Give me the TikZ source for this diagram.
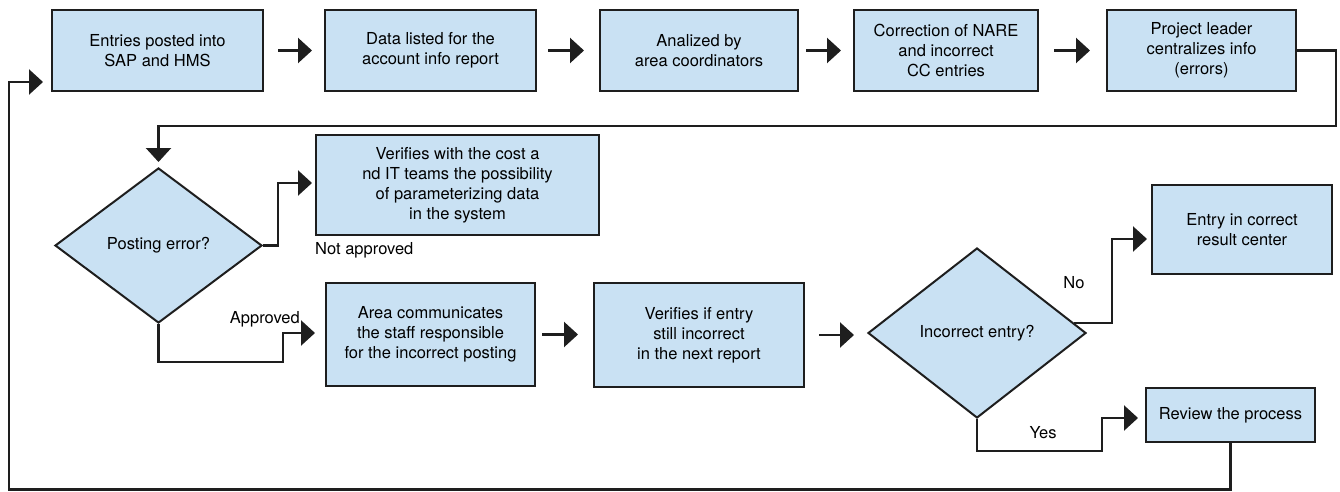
\documentclass[tikz,border=0pt]{standalone}
\usepackage{fontspec}
\setmainfont{TeX Gyre Heros}
\usepackage{tikz}
\usetikzlibrary{arrows.meta,shapes.geometric}
\definecolor{boxblue}{RGB}{201,225,243}
\definecolor{lineblack}{RGB}{30,30,30}

\begin{document}
\begin{tikzpicture}[x=1pt,y=-1pt,
  box/.style={draw=lineblack,fill=boxblue,line width=2pt,align=center,inner sep=0pt,
    font=\fontsize{16.5}{20}\selectfont},
  decision/.style={box,diamond},
  flow/.style={draw=lineblack,line width=2.3pt,-{Triangle[length=14pt,width=25pt]}},
  lbl/.style={inner sep=0pt,font=\fontsize{16.5}{20}\selectfont}]
  \useasboundingbox (0,0) rectangle (1340,492);

  % top row
  \node[box,minimum width=211pt,minimum height=81pt] (entries) at (157.5,50.5) {Entries posted into\\SAP and HMS};
  \node[box,minimum width=211pt,minimum height=81pt] (listed) at (430.5,50.5) {Data listed for the\\account info report};
  \node[box,minimum width=198pt,minimum height=81pt] (analized) at (699,50.5) {Analized by\\area coordinators};
  \node[box,minimum width=184pt,minimum height=81pt] (correction) at (946,50.5) {Correction of NARE\\and incorrect\\CC entries};
  \node[box,minimum width=189pt,minimum height=81pt] (leader) at (1201.5,50.5) {Project leader\\centralizes info\\(errors)};
  \foreach \a/\b/\s/\t in {entries/listed/14/12,listed/analized/11/15,analized/correction/7/12,correction/leader/15/16}
    \draw[flow,shorten <=\s pt,shorten >=\t pt] (\a) -- (\b);

  % posting error
  \node[decision,minimum width=207pt,minimum height=155pt] (posting) at (158.5,245.5) {Posting error?};
  \node[box,minimum width=283pt,minimum height=100pt] (verifycost) at (457.5,185) {Verifies with the cost a\\nd IT teams the possibility\\of parameterizing data\\in the system};
  \node[box,minimum width=209pt,minimum height=103pt] (communicates) at (430.5,334.5) {Area communicates\\the staff responsible\\for the incorrect posting};
  \node[box,minimum width=210pt,minimum height=104pt] (verifyentry) at (699,335) {Verifies if entry\\still incorrect\\in the next report};

  % incorrect entry
  \node[decision,minimum width=218pt,minimum height=170pt] (incorrect) at (977,333) {Incorrect entry?};
  \node[box,minimum width=180pt,minimum height=89pt] (correctcenter) at (1242,229.5) {Entry in correct\\result center};
  \node[box,minimum width=169pt,minimum height=54pt] (review) at (1230.5,415) {Review the process};

  \coordinate (turnright) at (1336,126);
  \coordinate (approvedturn) at (283,362);
  \coordinate (noturn) at (1112,239);
  \coordinate (yesturn) at (1102,451);
  \coordinate (backturn) at (9,489.5);

  \draw[flow,shorten >=5pt] (leader.east) -| (turnright) -| (posting.north);
  \draw[flow,shorten >=3pt] (posting.east) -- ++(15,0) |- ([yshift=2pt]verifycost.west);
  \draw[flow,shorten >=10pt] (posting.south) |- (approvedturn) |- ([yshift=1.5pt]communicates.west);
  \draw[flow,shorten <=6pt,shorten >=15pt] (communicates.east) -- (communicates.east -| verifyentry.west);
  \draw[flow,shorten <=14pt,shorten >=13pt] (verifyentry.east) -- (verifyentry.east -| incorrect.west);
  \draw[flow,shorten >=4pt] ([shift={(-13,-10)}]incorrect.east) -| (noturn) -- (noturn -| correctcenter.west);
  \draw[flow,shorten >=7pt] (incorrect.south) |- (yesturn) |- ([yshift=-3pt]review.west);
  \draw[flow,shorten >=8pt] (review.south) |- (backturn) |- ([yshift=10pt]entries.south west);

  \node[lbl,anchor=north west] (notapproved) at ([yshift=-6pt]verifycost.south west) {Not approved};
  \node[lbl,anchor=east] (approved) at (300,319) {Approved};
  \node[lbl] (nolbl) at (1074,283) {No};
  \node[lbl] (yeslbl) at (1043,433) {Yes};
\end{tikzpicture}
\end{document}
